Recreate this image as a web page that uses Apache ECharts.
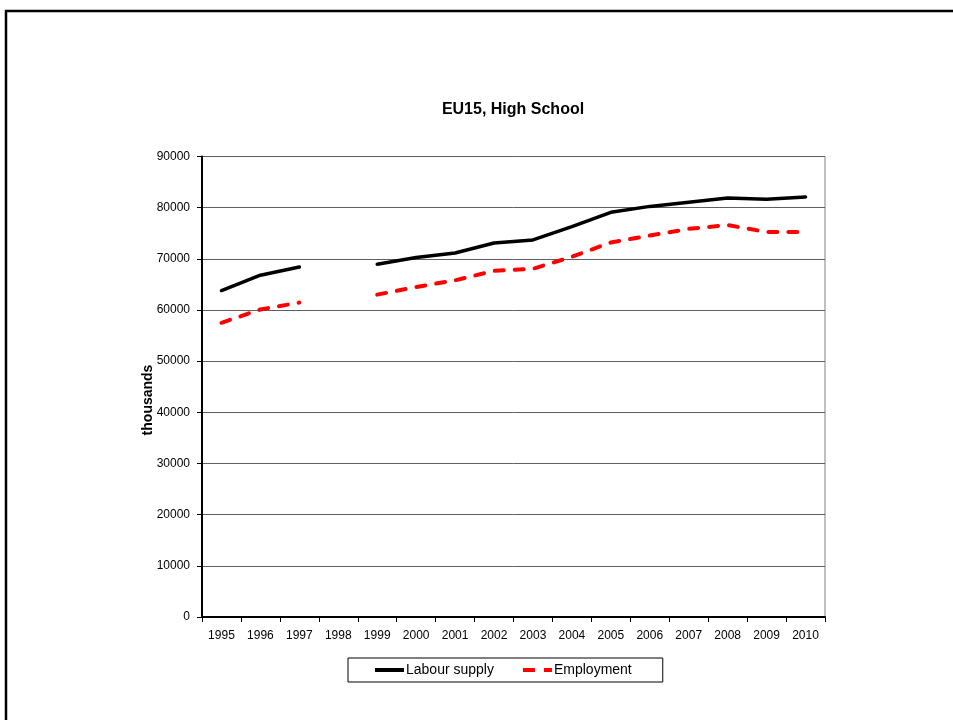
<!DOCTYPE html>
<html>
<head>
<meta charset="utf-8">
<script src="https://cdn.jsdelivr.net/npm/echarts@6/dist/echarts.min.js"></script>
<style>
html,body{margin:0;padding:0;background:#fff;}
#c{width:953px;height:720px;}
</style>
</head>
<body>
<div id="c"></div>
<script>
var categories = ['1995','1996','1997','1998','1999','2000','2001','2002','2003','2004','2005','2006','2007','2008','2009','2010'];
var labourSupply = [63800, 66800, 68400, null, 68950, 70250, 71150, 73100, 73700, 76300, 79100, 80250, 81050, 81900, 81650, 82100];
var employment = [57500, 60100, 61450, null, 63000, 64500, 65800, 67650, 68050, 70400, 73200, 74550, 75850, 76600, 75250, 75250];
var yTicks = [0, 10000, 20000, 30000, 40000, 50000, 60000, 70000, 80000, 90000];

var chart = echarts.init(document.getElementById('c'), null, {renderer: 'canvas'});
var font = 'Liberation Sans, Arial, sans-serif';
chart.setOption({
  backgroundColor: '#ffffff',
  animation: false,
  textStyle: {fontFamily: font},
  graphic: [
    {type: 'rect', shape: {x: 6, y: 11, width: 1000, height: 800},
     style: {fill: 'none', stroke: '#000', lineWidth: 2.5}, silent: true},
    {type: 'text', x: 513, y: 110,
     style: {text: 'EU15, High School', font: 'bold 16px Liberation Sans, Arial, sans-serif',
             fill: '#000', align: 'center', verticalAlign: 'middle'}},
    {type: 'text', x: 148, y: 400, rotation: Math.PI / 2,
     style: {text: 'thousands', font: 'bold 14px Liberation Sans, Arial, sans-serif',
             fill: '#000', align: 'center', verticalAlign: 'middle'}}
  ],
  grid: {left: 202, right: 128, top: 156.5, bottom: 103, show: true,
         borderColor: '#808080', borderWidth: 1, containLabel: false},
  legend: {
    left: 348, top: 658,
    padding: [5, 31, 5, 27],
    itemGap: 29, itemWidth: 29, itemHeight: 4,
    borderColor: '#000', borderWidth: 1, borderRadius: 0,
    textStyle: {fontFamily: font, fontSize: 14, color: '#000', padding: [0, 0, 0, -3]},
    data: [
      {name: 'Labour supply', icon: 'path://M0,0H29V4H0Z', itemStyle: {color: '#000'}},
      {name: 'Employment', icon: 'path://M0,0H12V4H0Z M21,0H29V4H21Z', itemStyle: {color: '#ff0000'}}
    ]
  },
  xAxis: {
    type: 'category', data: categories, boundaryGap: true,
    axisLine: {lineStyle: {color: '#000', width: 2}},
    axisTick: {show: true, length: 5, lineStyle: {color: '#000', width: 1}},
    axisLabel: {color: '#000', fontSize: 12, margin: 13, interval: 0, fontFamily: font},
    splitLine: {show: false}
  },
  yAxis: {
    type: 'value', min: yTicks[0], max: yTicks[yTicks.length - 1], interval: yTicks[1] - yTicks[0],
    axisLine: {show: true, lineStyle: {color: '#000', width: 2}},
    axisTick: {show: true, length: 5, lineStyle: {color: '#000', width: 1}},
    axisLabel: {color: '#000', fontSize: 12, margin: 12, fontFamily: font,
                formatter: function (v) { return String(v); }},
    splitLine: {show: true, lineStyle: {color: '#606060', width: 1}}
  },
  series: [
    {name: 'Labour supply', type: 'line', data: labourSupply, symbol: 'none', connectNulls: false,
     lineStyle: {color: '#000', width: 3.5, cap: 'round', join: 'round'}, itemStyle: {color: '#000'}},
    {name: 'Employment', type: 'line', data: employment, symbol: 'none', connectNulls: false,
     lineStyle: {color: '#ff0000', width: 4, type: [9, 11], cap: 'round', join: 'round'}, itemStyle: {color: '#ff0000'}}
  ]
});
</script>
</body>
</html>
